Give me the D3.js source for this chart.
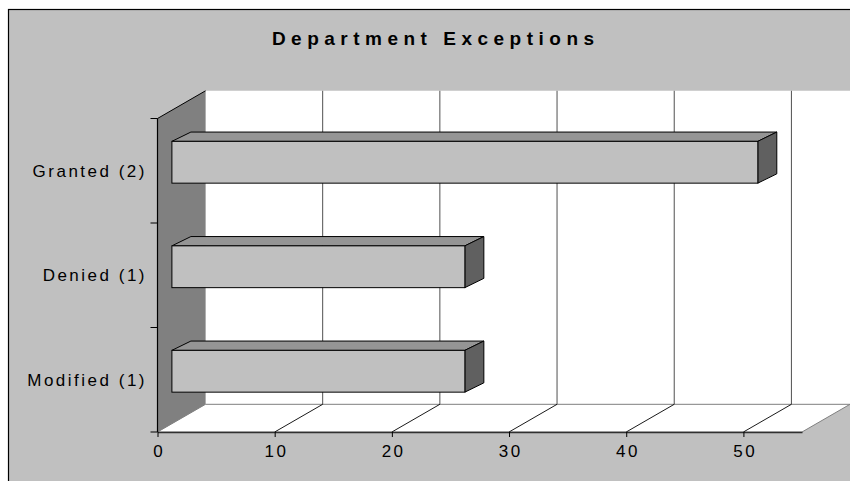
<!DOCTYPE html>
<html>
<head>
<meta charset="utf-8">
<script src="https://cdn.jsdelivr.net/npm/d3@7"></script>
<style>
  html, body { margin: 0; padding: 0; background: #fff; }
  svg { display: block; }
  text { font-family: "Liberation Sans", Arial, sans-serif; }
</style>
</head>
<body>
<svg id="chart" width="850" height="481"></svg>
<script>
// ---- data ----
const title = "Department Exceptions";
const categories = ["Granted (2)", "Denied (1)", "Modified (1)"];
const values = [50, 25, 25];
const xTicks = [0, 10, 20, 30, 40, 50];
const xMax = 55;

// ---- layout ----
const svg = d3.select("#chart");
const DX = 48, DY = -27.7;          // wall depth offset
const BFX = 14.4;                   // bar front depth offset
const BDX = 19, BDY = -9.3;         // bar depth
const BARSHIFT = -8.5;
const LS = 2.5;

const x = d3.scaleLinear().domain([0, xMax]).range([157.5, 802]);
const y = d3.scaleBand().domain(categories).range([118.5, 432]);
const x0 = x(0), yTop = y.range()[0], yBot = y.range()[1], xEnd = x(xMax);

// frame
svg.append("rect").attr("x", 8.5).attr("y", 9.5).attr("width", 900).attr("height", 500)
  .attr("fill", "#c0c0c0").attr("stroke", "#000").attr("stroke-width", 1.2);

// title
svg.append("text").attr("x", 433 + 2.75).attr("y", 45.3).attr("text-anchor", "middle")
  .attr("font-size", 19).attr("font-weight", "bold").style("letter-spacing", "5.5px")
  .attr("fill", "#000").text(title);

// back wall
svg.append("polygon")
  .attr("points", [[x0 + DX, yTop + DY], [xEnd + DX, yTop + DY], [xEnd + DX, yBot + DY], [x0 + DX, yBot + DY]].map(p => p.join(",")).join(" "))
  .attr("fill", "#fff");

// floor
svg.append("polygon")
  .attr("points", [[x0, yBot], [x0 + DX, yBot + DY], [xEnd + DX, yBot + DY], [xEnd, yBot]].map(p => p.join(",")).join(" "))
  .attr("fill", "#fff").attr("stroke", "#808080").attr("stroke-width", 1);

// side wall
svg.append("polygon")
  .attr("points", [[x0, yTop], [x0 + DX, yTop + DY], [x0 + DX, yBot + DY], [x0, yBot]].map(p => p.join(",")).join(" "))
  .attr("fill", "#808080");
svg.append("line").attr("x1", x0).attr("y1", yTop).attr("x2", x0 + DX).attr("y2", yTop + DY)
  .attr("stroke", "#000").attr("stroke-width", 1);

// gridlines (back wall + floor)
const gridVals = xTicks.filter(v => v > 0);
svg.append("g").selectAll("line").data(gridVals).join("line")
  .attr("x1", d => x(d) + DX).attr("x2", d => x(d) + DX)
  .attr("y1", yTop + DY).attr("y2", yBot + DY)
  .attr("stroke", "#505050").attr("stroke-width", 1);
svg.append("g").selectAll("line").data(gridVals).join("line")
  .attr("x1", d => x(d)).attr("x2", d => x(d) + DX)
  .attr("y1", yBot).attr("y2", yBot + DY)
  .attr("stroke", "#000").attr("stroke-width", 0.9);

// bars
const bars = svg.append("g");
categories.forEach((c, i) => {
  const bh = y.bandwidth() * 0.4;
  const cy = y(c) + y.bandwidth() / 2 + BARSHIFT;
  const t = cy - bh / 2, b = cy + bh / 2;
  const l = x(0) + BFX, r = x(values[i]) + BFX;
  const pts = a => a.map(p => p.join(",")).join(" ");
  bars.append("polygon").attr("points", pts([[l, t], [l + BDX, t + BDY], [r + BDX, t + BDY], [r, t]]))
    .attr("fill", "#959595").attr("stroke", "#000").attr("stroke-width", 1).attr("stroke-linejoin", "round");
  bars.append("polygon").attr("points", pts([[r, t], [r + BDX, t + BDY], [r + BDX, b + BDY], [r, b]]))
    .attr("fill", "#606060").attr("stroke", "#000").attr("stroke-width", 1).attr("stroke-linejoin", "round");
  bars.append("rect").attr("x", l).attr("y", t).attr("width", r - l).attr("height", b - t)
    .attr("fill", "#c0c0c0").attr("stroke", "#000").attr("stroke-width", 1);
});

// x axis
const xAxis = svg.append("g").attr("transform", `translate(0,${yBot})`)
  .call(d3.axisBottom(x).tickValues(xTicks).tickSize(5).tickSizeOuter(0).tickPadding(10));
xAxis.select(".domain").attr("stroke", "#303030").attr("stroke-width", 1.3);
xAxis.selectAll(".tick line").attr("stroke", "#000");
xAxis.selectAll(".tick text").attr("font-size", 17).attr("fill", "#000")
  .attr("font-family", "Liberation Sans, Arial, sans-serif")
  .style("letter-spacing", LS + "px").attr("dx", (LS / 2) + "px").attr("dy", "0.6em");

// y axis line + boundary ticks
svg.append("line").attr("x1", x0).attr("x2", x0).attr("y1", yTop).attr("y2", yBot)
  .attr("stroke", "#000").attr("stroke-width", 1.2);
const bounds = categories.map(c => y(c)).concat([yBot]);
svg.append("g").selectAll("line").data(bounds).join("line")
  .attr("x1", x0 - 7).attr("x2", x0).attr("y1", d => d).attr("y2", d => d)
  .attr("stroke", "#000").attr("stroke-width", 1);

// y labels
const yAxis = svg.append("g").attr("transform", `translate(${x0},0)`)
  .call(d3.axisLeft(y).tickSize(0).tickPadding(13 - LS));
yAxis.select(".domain").remove();
yAxis.selectAll(".tick text").attr("font-size", 17).attr("fill", "#000")
  .attr("font-family", "Liberation Sans, Arial, sans-serif")
  .style("letter-spacing", LS + "px").attr("dy", "0.36em");
</script>
</body>
</html>
